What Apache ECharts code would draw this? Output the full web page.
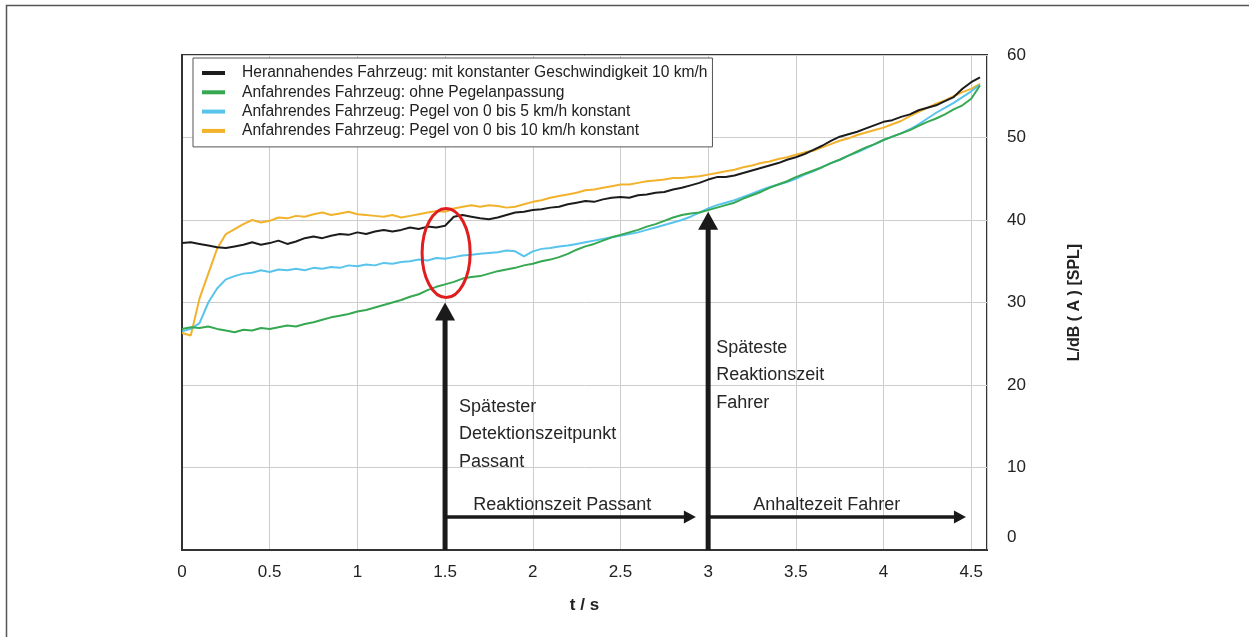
<!DOCTYPE html>
<html>
<head>
<meta charset="utf-8">
<script src="https://cdn.jsdelivr.net/npm/echarts@6/dist/echarts.min.js"></script>
<style>
  html, body { margin: 0; padding: 0; background: #fff; }
  #chart { width: 1249px; height: 637px; }
</style>
</head>
<body>
<div id="chart"></div>
<script>
// Zeitachse in Sekunden
const times = [
  0.00, 0.05, 0.10, 0.15, 0.20, 0.25, 0.30, 0.35, 0.40, 0.45,
  0.50, 0.55, 0.60, 0.65, 0.70, 0.75, 0.80, 0.85, 0.90, 0.95,
  1.00, 1.05, 1.10, 1.15, 1.20, 1.25, 1.30, 1.35, 1.40, 1.45,
  1.50, 1.55, 1.60, 1.65, 1.70, 1.75, 1.80, 1.85, 1.90, 1.95,
  2.00, 2.05, 2.10, 2.15, 2.20, 2.25, 2.30, 2.35, 2.40, 2.45,
  2.50, 2.55, 2.60, 2.65, 2.70, 2.75, 2.80, 2.85, 2.90, 2.95,
  3.00, 3.05, 3.10, 3.15, 3.20, 3.25, 3.30, 3.35, 3.40, 3.45,
  3.50, 3.55, 3.60, 3.65, 3.70, 3.75, 3.80, 3.85, 3.90, 3.95,
  4.00, 4.05, 4.10, 4.15, 4.20, 4.25, 4.30, 4.35, 4.40, 4.45,
  4.50, 4.55
];

const seriesNames = [
  'Herannahendes Fahrzeug: mit konstanter Geschwindigkeit 10 km/h',
  'Anfahrendes Fahrzeug: ohne Pegelanpassung',
  'Anfahrendes Fahrzeug: Pegel von 0 bis 5 km/h konstant',
  'Anfahrendes Fahrzeug: Pegel von 0 bis 10 km/h konstant'
];

// Schallpegel L in dB(A)
const herannahend = [
  37.2, 37.3, 37.1, 36.9, 36.7, 36.6, 36.8, 37.0, 37.3, 37.0,
  37.2, 37.5, 37.1, 37.4, 37.8, 38.0, 37.8, 38.1, 38.3, 38.2,
  38.5, 38.3, 38.6, 38.8, 38.6, 38.8, 39.1, 38.9, 39.2, 39.1,
  39.3, 40.4, 40.6, 40.4, 40.2, 40.1, 40.3, 40.6, 40.9, 41.0,
  41.2, 41.3, 41.5, 41.6, 41.9, 42.1, 42.3, 42.2, 42.5, 42.7,
  42.8, 42.7, 43.0, 43.1, 43.3, 43.4, 43.7, 43.9, 44.2, 44.5,
  44.9, 45.2, 45.2, 45.4, 45.7, 46.0, 46.3, 46.6, 46.9, 47.3,
  47.6, 48.0, 48.5, 49.0, 49.6, 50.1, 50.4, 50.7, 51.1, 51.5,
  51.9, 52.1, 52.5, 52.8, 53.3, 53.6, 53.9, 54.4, 54.9, 55.9,
  56.7, 57.3
];
const ohneAnpassung = [
  26.8, 27.0, 26.9, 27.1, 26.8, 26.6, 26.4, 26.7, 26.6, 26.9,
  26.8, 27.0, 27.2, 27.1, 27.4, 27.6, 27.9, 28.2, 28.4, 28.6,
  28.9, 29.1, 29.4, 29.7, 30.0, 30.3, 30.7, 31.0, 31.5, 31.9,
  32.2, 32.5, 32.9, 33.1, 33.2, 33.5, 33.8, 34.0, 34.2, 34.5,
  34.7, 35.0, 35.2, 35.5, 35.9, 36.4, 36.8, 37.1, 37.5, 37.9,
  38.2, 38.5, 38.8, 39.2, 39.5, 39.9, 40.3, 40.6, 40.8, 40.9,
  41.2, 41.5, 41.8, 42.1, 42.6, 43.0, 43.4, 43.9, 44.3, 44.7,
  45.2, 45.6, 46.0, 46.4, 46.9, 47.3, 47.8, 48.3, 48.8, 49.2,
  49.7, 50.1, 50.5, 50.9, 51.4, 51.9, 52.3, 52.8, 53.4, 53.9,
  54.7, 56.3
];
const pegel5 = [
  26.5, 26.8, 27.5, 30.0, 31.7, 32.8, 33.2, 33.5, 33.6, 33.9,
  33.7, 34.0, 33.9, 34.1, 33.9, 34.2, 34.1, 34.3, 34.2, 34.5,
  34.4, 34.6, 34.5, 34.8, 34.7, 34.9, 35.0, 35.2, 35.1, 35.4,
  35.3, 35.5, 35.7, 35.8, 35.9, 36.0, 36.1, 36.3, 36.2, 35.6,
  36.2, 36.5, 36.6, 36.8, 36.9, 37.1, 37.3, 37.5, 37.7, 37.9,
  38.1, 38.3, 38.5, 38.8, 39.1, 39.4, 39.7, 40.0, 40.4, 40.9,
  41.4, 41.8, 42.1, 42.4, 42.8, 43.2, 43.6, 44.0, 44.3, 44.6,
  45.0, 45.5, 45.9, 46.4, 46.9, 47.3, 47.8, 48.2, 48.7, 49.2,
  49.7, 50.1, 50.5, 51.0, 51.6, 52.3, 53.0, 53.6, 54.2, 54.9,
  55.6, 56.4
];
const pegel10 = [
  26.3, 26.0, 30.5, 33.5, 36.5, 38.3, 38.9, 39.5, 40.0, 39.7,
  39.9, 40.3, 40.2, 40.5, 40.4, 40.7, 40.9, 40.6, 40.8, 41.0,
  40.7, 40.6, 40.5, 40.4, 40.6, 40.3, 40.5, 40.7, 40.9, 41.1,
  41.0, 41.4, 41.6, 41.8, 41.6, 41.8, 41.7, 41.5, 41.6, 41.9,
  42.2, 42.4, 42.7, 42.9, 43.1, 43.3, 43.6, 43.7, 43.9, 44.1,
  44.3, 44.3, 44.5, 44.7, 44.8, 44.9, 45.1, 45.1, 45.2, 45.3,
  45.5, 45.7, 45.9, 46.1, 46.4, 46.6, 46.9, 47.1, 47.4, 47.6,
  47.9, 48.2, 48.4, 48.8, 49.2, 49.6, 49.9, 50.3, 50.6, 50.9,
  51.2, 51.6, 52.0, 52.6, 53.1, 53.6, 54.1, 54.5, 55.0, 55.5,
  55.9, 56.5
];

// Pfeile: [t Start, L Start, t Spitze, L Spitze]
const arrows = [
  [1.5, 0, 1.5, 30],
  [3.0, 0, 3.0, 41],
  [1.5, 4, 2.93, 4],
  [3.0, 4, 4.47, 4]
];

// Beschriftungen (linke obere Ecke in Achsenwerten)
const annoT = [1.58, 3.046, 1.66, 3.257];
const annoL = [19.0, 26.2, 7.1, 7.1];
const annoText = [
  'Spätester\nDetektionszeitpunkt\nPassant',
  'Späteste\nReaktionszeit\nFahrer',
  'Reaktionszeit Passant',
  'Anhaltezeit Fahrer'
];

// Markierung um den Detektionszeitpunkt: Mittelpunkt und Halbachsen
const markCenter = [1.506, 36.0];
const markRadius = [0.137, 5.4];

const xTicks = [0, 0.5, 1, 1.5, 2, 2.5, 3, 3.5, 4, 4.5];

const FONT = '"Liberation Sans", Arial, sans-serif';
const colors = ['#1c1c1c', '#36a852', '#58c4ec', '#f2b22c'];
const values = [herannahend, ohneAnpassung, pegel5, pegel10];
const zOrder = [6, 5, 4, 3];

const chart = echarts.init(document.getElementById('chart'), null, { renderer: 'canvas' });

const lineSeries = seriesNames.map((name, i) => ({
  name: name,
  type: 'line',
  data: times.map((t, k) => [t, values[i][k]]),
  showSymbol: false,
  symbol: 'none',
  z: zOrder[i],
  lineStyle: { color: colors[i], width: 2 },
  itemStyle: { color: colors[i] },
  animation: false
}));

function renderArrow(params, api) {
  const p0 = api.coord([api.value(0), api.value(1)]);
  const p1 = api.coord([api.value(2), api.value(3)]);
  const dx = p1[0] - p0[0], dy = p1[1] - p0[1];
  const len = Math.sqrt(dx * dx + dy * dy);
  const ux = dx / len, uy = dy / len;
  const nx = -uy, ny = ux;
  const vertical = Math.abs(dx) < 1;
  const shaft = vertical ? 5 : 3.5;
  const hw = vertical ? 10 : 6.5;
  const hl = vertical ? 18 : 12;
  const bx = p1[0] - ux * hl, by = p1[1] - uy * hl;
  return {
    type: 'group',
    children: [
      {
        type: 'line',
        shape: { x1: p0[0], y1: p0[1], x2: bx + ux, y2: by + uy },
        style: { stroke: '#1a1a1a', lineWidth: shaft }
      },
      {
        type: 'polygon',
        shape: { points: [[p1[0], p1[1]], [bx + nx * hw, by + ny * hw], [bx - nx * hw, by - ny * hw]] },
        style: { fill: '#1a1a1a' }
      }
    ]
  };
}

function renderText(params, api) {
  const p = api.coord([api.value(0), api.value(1)]);
  return {
    type: 'text',
    x: p[0],
    y: p[1],
    style: {
      text: annoText[params.dataIndex],
      fontSize: 18,
      fontFamily: FONT,
      fill: '#262626',
      align: 'left',
      verticalAlign: 'top',
      lineHeight: 27.5
    }
  };
}

function renderEllipse(params, api) {
  const c = api.coord([api.value(0), api.value(1)]);
  const s = api.size([api.value(2), api.value(3)]);
  return {
    type: 'ellipse',
    shape: { cx: c[0], cy: c[1], rx: s[0], ry: s[1] },
    style: { fill: 'none', stroke: '#e11d1d', lineWidth: 3 }
  };
}

const option = {
  animation: false,
  backgroundColor: '#ffffff',
  textStyle: { fontFamily: FONT },
  grid: {
    left: 182, right: 262, top: 55, bottom: 87,
    show: true,
    borderColor: '#333',
    borderWidth: 2,
    backgroundColor: 'transparent'
  },
  legend: {
    orient: 'vertical',
    left: 193,
    top: 58,
    padding: [7, 5, 8, 9],
    itemGap: 3.3,
    itemWidth: 23,
    itemHeight: 4,
    icon: 'rect',
    backgroundColor: '#ffffff',
    borderColor: '#555',
    borderWidth: 1,
    borderRadius: 0,
    data: seriesNames,
    textStyle: {
      fontSize: 15.6,
      fontFamily: FONT,
      color: '#222',
      lineHeight: 16,
      padding: [0, 0, 0, 12]
    }
  },
  xAxis: {
    type: 'value',
    min: 0,
    max: 4.59,
    interval: 0.5,
    name: 't / s',
    nameLocation: 'middle',
    nameGap: 47,
    nameTextStyle: { fontSize: 17, fontWeight: 'bold', color: '#222', fontFamily: FONT },
    axisLine: { show: true, lineStyle: { color: '#333', width: 2 } },
    axisTick: { show: false },
    axisLabel: {
      fontSize: 17,
      color: '#222',
      margin: 14,
      showMaxLabel: false,
      fontFamily: FONT,
      formatter: v => (xTicks.indexOf(Math.round(v * 10) / 10) >= 0 ? String(Math.round(v * 10) / 10) : '')
    },
    splitLine: { show: true, lineStyle: { color: '#cdcdcd', width: 1 } }
  },
  yAxis: {
    type: 'value',
    position: 'right',
    min: 0,
    max: 60,
    interval: 10,
    name: 'L/dB ( A ) [SPL]',
    nameLocation: 'middle',
    nameRotate: 90,
    nameGap: 80,
    nameTextStyle: { fontSize: 16, fontWeight: 'bold', color: '#222', fontFamily: FONT },
    axisLine: { show: true, lineStyle: { color: '#333', width: 2 } },
    axisTick: { show: false },
    axisLabel: {
      fontSize: 17,
      color: '#222',
      margin: 20,
      fontFamily: FONT,
      formatter: v => (v === 0 ? '{low|0}' : String(v)),
      rich: { low: { fontSize: 17, color: '#222', fontFamily: FONT, padding: [0, 0, 26, 0] } }
    },
    splitLine: { show: true, lineStyle: { color: '#cdcdcd', width: 1 } }
  },
  graphic: [
    {
      type: 'polyline',
      shape: { points: [[6.5, 637], [6.5, 5.5], [1249, 5.5]] },
      style: { stroke: '#555', lineWidth: 1.5, fill: 'none' },
      silent: true
    }
  ],
  series: lineSeries.concat([
    {
      type: 'custom',
      name: 'Markierung',
      renderItem: renderEllipse,
      data: [[markCenter[0], markCenter[1], markRadius[0], markRadius[1]]],
      encode: { x: 0, y: 1 },
      z: 10,
      silent: true,
      animation: false
    },
    {
      type: 'custom',
      name: 'Pfeile',
      renderItem: renderArrow,
      data: arrows,
      encode: { x: [0, 2], y: [1, 3] },
      z: 9,
      clip: false,
      silent: true,
      animation: false
    },
    {
      type: 'custom',
      name: 'Text',
      renderItem: renderText,
      data: annoT.map((t, i) => [t, annoL[i]]),
      encode: { x: 0, y: 1 },
      z: 9,
      silent: true,
      animation: false
    }
  ])
};

chart.setOption(option);
</script>
</body>
</html>
